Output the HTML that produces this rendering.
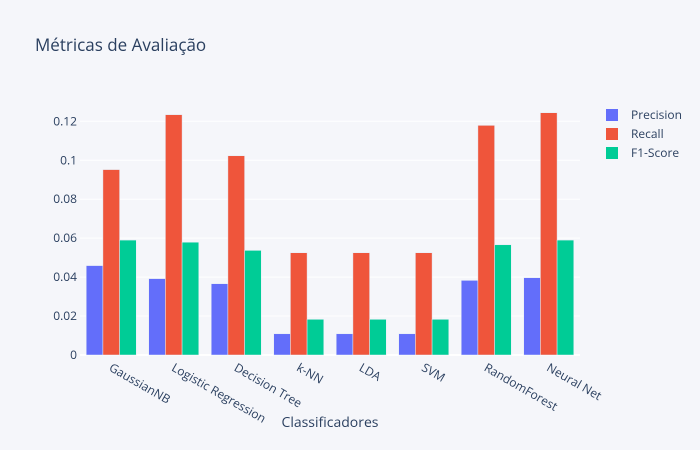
<!DOCTYPE html>
<html><head><meta charset="utf-8"><style>
body{margin:0;background:#f5f6fa;}
svg{display:block;font-family:"Open Sans","Liberation Sans",sans-serif;}
</style></head><body>
<svg id="chart" width="700" height="450">
<rect width="700" height="450" fill="#f5f6fa"/>
<text x="35" y="51" font-size="17" fill="#2a3f5f">Métricas de Avaliação</text>
<g id="grid"></g><g id="bars"></g><g id="xlabels"></g><g id="ylabels"></g>
<text x="330" y="427" font-size="14" fill="#2a3f5f" text-anchor="middle">Classificadores</text>
<g id="legend"></g>
</svg>
<script>
const categories=["GaussianNB","Logistic Regression","Decision Tree","k-NN","LDA","SVM","RandomForest","Neural Net"];
const precision=[0.0459,0.0392,0.0366,0.0109,0.0109,0.0109,0.0383,0.0397];
const recall=[0.0952,0.1234,0.1023,0.0525,0.0525,0.0525,0.1179,0.1244];
const f1=[0.059,0.0579,0.0537,0.0183,0.0183,0.0183,0.0566,0.059];
const seriesNames=["Precision","Recall","F1-Score"];
const yTicks=[0,0.02,0.04,0.06,0.08,0.1,0.12];
const yTickLabels=["0","0.02","0.04","0.06","0.08","0.1","0.12"];
const NS="http://www.w3.org/2000/svg";
const colors=["#636efa","#ef553b","#00cc96"];
const X0=80,X1=580,Y0=355,K=1947.5;
const y=v=>Y0-v*K;
const bw=(X1-X0)/categories.length;
function mk(t,a,p){const e=document.createElementNS(NS,t);for(const k in a)e.setAttribute(k,a[k]);p.appendChild(e);return e;}
const grid=document.getElementById('grid'),yl=document.getElementById('ylabels');
yTicks.forEach((t,i)=>{
 const l=mk('line',{x1:X0,x2:X1,y1:y(t),y2:y(t),stroke:'#fff','stroke-width':i==0?2:1},grid);
 
 
 const tx=mk('text',{x:X0-3,y:y(t)+4,'font-size':12,fill:'#2a3f5f','text-anchor':'end'},yl);
 tx.textContent=yTickLabels[i];
 
 
});
const bars=document.getElementById('bars'),xl=document.getElementById('xlabels');
const series=[precision,recall,f1];
categories.forEach((c,i)=>{
 const gx=X0+i*bw+bw*0.1,w=bw*0.8/3;
 series.forEach((s,j)=>{
  const r=mk('rect',{x:gx+j*w,y:y(s[i]),width:w,height:Y0-y(s[i]),fill:colors[j],stroke:'#e5ecf6','stroke-width':0.5},bars);
  
  
 });
 const cx=X0+i*bw+bw/2;
 const t=mk('text',{x:cx-3,y:370,'font-size':12,fill:'#2a3f5f',transform:`rotate(30 ${cx-3} 370)`},xl);
 t.textContent=c;
 
 
});
const lg=document.getElementById('legend');
seriesNames.forEach((n,j)=>{
 const yy=115+j*19;
 const r=mk('rect',{x:606,y:yy-6,width:12,height:12,fill:colors[j]},lg);
 
 
 const t=mk('text',{x:631,y:yy+4,'font-size':12,fill:'#2a3f5f'},lg);
 t.textContent=n;
 
 
});
</script>
</body></html>
